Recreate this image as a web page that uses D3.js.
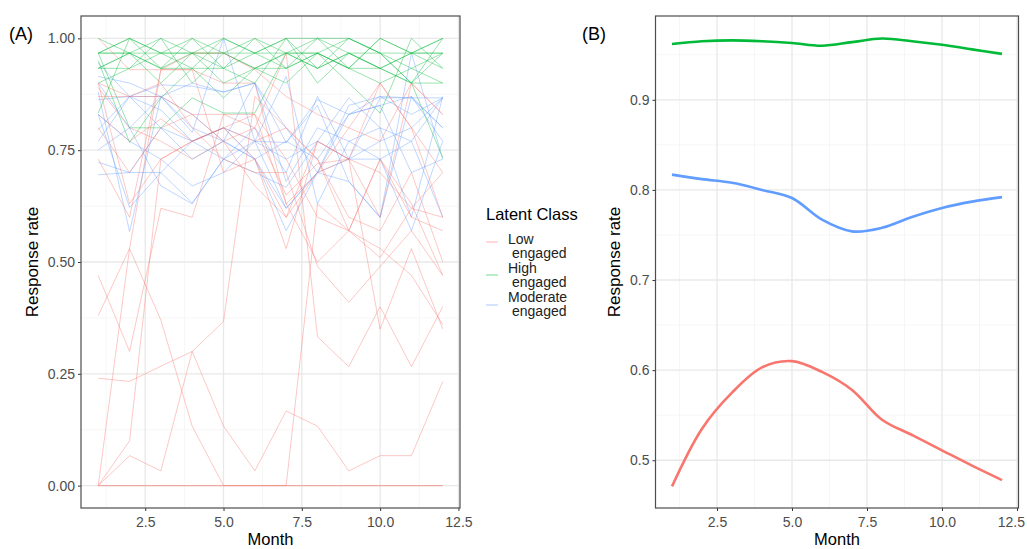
<!DOCTYPE html>
<html>
<head>
<meta charset="utf-8">
<script src="https://cdn.jsdelivr.net/npm/d3@7"></script>
<style>
  body { margin: 0; background: #fff; }
  svg { font-family: "Liberation Sans", Arial, sans-serif; }
  .tick text { fill: #4d4d4d; font-size: 14px; }
  .tick line { stroke: #333; }
</style>
</head>
<body>
<div class="chart"></div>
<script>
const months = [1, 2, 3, 4, 5, 6, 7, 8, 9, 10, 11, 12];
const classes = ['Low engaged', 'High engaged', 'Moderate engaged'];
const classColors = ['#F8766D', '#00BA38', '#619CFF'];

// panel A: individual trajectories per class
const lowLines = [
  [0, 0, 0, 0, 0, 0, 0, 0, 0, 0, 0, 0],
  [0, 0.067, 0.033, 0.30, 0.133, 0.033, 0.167, 0.133, 0.033, 0.067, 0.067, 0.233],
  [0.24, 0.233, 0.267, 0.30, 0.367, 0.87, 0.80, 0.73, 0.60, 0.57, 0.70, 0.50],
  [0, 0.10, 0.73, 0.77, 0.80, 0.83, 0.63, 0.70, 0.73, 0.90, 0.80, 0.70],
  [0, 0.53, 0.93, 0.93, 0.90, 0.90, 0.63, 0.50, 0.57, 0.73, 0.63, 0.47],
  [0.47, 0.30, 0.62, 0.60, 0.83, 0.83, 0.73, 0.60, 0.57, 0.53, 0.47, 0.36],
  [0.38, 0.53, 0.37, 0.133, 0, 0, 0, 0, 0, 0, 0, 0],
  [0, 0, 0, 0, 0, 0, 0, 0.63, 0.57, 0.73, 0.60, 0.57],
  [0.89, 0.80, 0.77, 0.73, 0.77, 0.80, 0.967, 0.333, 0.266, 0.40, 0.266, 0.40],
  [1.0, 0.93, 0.93, 0.967, 0.967, 0.93, 0.87, 0.83, 0.80, 0.77, 0.90, 0.83],
  [0.90, 0.87, 0.87, 0.83, 0.83, 0.80, 0.65, 0.72, 0.73, 0.70, 0.62, 0.70],
  [0.83, 0.77, 0.82, 0.77, 0.80, 0.73, 0.60, 0.70, 0.80, 0.90, 0.80, 0.60],
  [0.87, 0.87, 0.90, 0.80, 0.73, 0.70, 0.70, 0.49, 0.41, 0.49, 0.57, 0.47],
  [0.80, 0.70, 0.80, 0.83, 0.77, 0.67, 0.60, 0.77, 0.73, 0.35, 0.53, 0.35],
  [0.90, 0.63, 0.73, 0.77, 0.80, 0.77, 0.80, 0.73, 0.57, 0.51, 0.62, 0.60],
  [0.73, 0.60, 0.93, 0.93, 0.70, 0.73, 0.53, 0.77, 0.73, 0.60, 0.90, 0.83]
];
const highLines = [
  [0.967, 0.967, 0.967, 0.967, 0.967, 0.967, 0.967, 1.0, 0.967, 0.933, 0.967, 1.0],
  [0.967, 1.0, 0.967, 1.0, 0.933, 1.0, 0.967, 0.967, 1.0, 0.967, 0.933, 0.967],
  [0.933, 0.967, 1.0, 0.967, 1.0, 0.967, 1.0, 1.0, 0.933, 1.0, 0.967, 0.933],
  [1.0, 0.967, 0.933, 0.967, 0.967, 0.933, 0.967, 0.933, 0.967, 0.967, 0.90, 1.0],
  [0.833, 1.0, 0.967, 0.933, 0.867, 0.933, 0.90, 0.967, 0.933, 0.90, 0.933, 0.90],
  [0.95, 0.767, 0.867, 0.933, 0.933, 0.90, 1.0, 0.90, 0.967, 0.933, 0.90, 0.733],
  [0.967, 0.80, 0.80, 0.867, 0.833, 0.833, 0.967, 0.967, 0.933, 1.0, 0.967, 0.967],
  [0.90, 0.933, 1.0, 0.90, 0.967, 1.0, 0.933, 0.967, 0.90, 0.833, 1.0, 0.933],
  [0.967, 0.967, 0.933, 1.0, 0.967, 0.933, 0.933, 1.0, 1.0, 0.967, 0.967, 0.967],
  [0.933, 0.933, 0.967, 0.967, 0.90, 0.933, 0.967, 0.933, 0.967, 0.933, 0.90, 0.90],
  [0.967, 1.0, 0.933, 0.933, 1.0, 0.967, 0.933, 0.967, 0.933, 0.933, 0.967, 1.0],
  [0.933, 0.967, 0.90, 0.967, 0.933, 0.967, 1.0, 0.933, 1.0, 0.967, 0.90, 0.967]
];
const moderateLines = [
  [0.945, 0.87, 0.87, 0.80, 0.77, 0.73, 0.62, 0.70, 0.73, 0.867, 0.867, 0.867],
  [0.915, 0.90, 0.87, 0.83, 0.77, 0.73, 0.57, 0.70, 0.68, 0.60, 0.967, 0.73],
  [0.863, 0.87, 0.896, 0.893, 0.88, 0.90, 0.767, 0.863, 0.83, 0.87, 0.867, 0.80],
  [0.796, 0.87, 0.84, 0.77, 0.73, 0.70, 0.667, 0.77, 0.73, 0.73, 0.77, 0.60],
  [0.751, 0.80, 0.87, 0.79, 1.0, 0.77, 0.915, 0.63, 0.77, 0.80, 0.60, 0.87],
  [0.723, 0.70, 0.70, 0.632, 0.73, 0.77, 0.62, 0.70, 0.83, 0.85, 0.70, 0.73],
  [0.695, 0.70, 0.80, 0.77, 0.80, 0.77, 0.767, 0.85, 0.68, 0.60, 0.87, 0.77],
  [0.88, 0.568, 0.87, 0.90, 0.88, 0.90, 0.68, 0.80, 0.77, 0.73, 0.57, 0.77],
  [0.83, 0.622, 0.70, 0.77, 0.80, 0.73, 0.77, 0.73, 0.83, 0.85, 0.87, 0.80],
  [0.90, 0.80, 0.67, 0.63, 0.73, 0.80, 0.70, 0.87, 0.73, 0.77, 0.80, 0.867],
  [0.77, 0.87, 0.80, 0.73, 0.77, 0.90, 0.80, 0.70, 0.85, 0.87, 0.83, 0.867],
  [0.83, 0.77, 0.73, 0.67, 0.70, 0.77, 0.73, 0.77, 0.867, 0.80, 0.77, 0.867]
];

// panel B: smoothed means
const lowMean = [0.471, 0.535, 0.575, 0.603, 0.610, 0.598, 0.578, 0.545, 0.528, 0.511, 0.494, 0.478];
const highMean = [0.962, 0.965, 0.966, 0.965, 0.963, 0.960, 0.964, 0.968, 0.965, 0.961, 0.956, 0.951];
const moderateMean = [0.817, 0.812, 0.808, 0.800, 0.791, 0.767, 0.754, 0.758, 0.770, 0.780, 0.787, 0.792];

const xTicks = [2.5, 5.0, 7.5, 10.0, 12.5];
const xMinor = [1.25, 3.75, 6.25, 8.75, 11.25];
const yTicksA = [0, 0.25, 0.5, 0.75, 1.0];
const yMinorA = [0.125, 0.375, 0.625, 0.875];
const yTicksB = [0.5, 0.6, 0.7, 0.8, 0.9];
const yMinorB = [0.55, 0.65, 0.75, 0.85, 0.95];

const svg = d3.select('.chart').append('svg')
    .attr('width', 1027)
    .attr('height', 549);

svg.append('rect').attr('width', 1027).attr('height', 549).attr('fill', '#fff');

function panel(xRange, yDomain, yRange, yTicks, yMinor, yFmt) {
    const x = d3.scaleLinear().domain([0.45, 12.55]).range(xRange);
    const y = d3.scaleLinear().domain(yDomain).range(yRange);
    const g = svg.append('g');

    // grid
    g.selectAll('.minx').data(xMinor).enter().append('line')
        .attr('x1', d => x(d)).attr('x2', d => x(d))
        .attr('y1', yRange[1]).attr('y2', yRange[0])
        .attr('stroke', '#f4f4f4').attr('stroke-width', 0.8);
    g.selectAll('.miny').data(yMinor).enter().append('line')
        .attr('y1', d => y(d)).attr('y2', d => y(d))
        .attr('x1', xRange[0]).attr('x2', xRange[1])
        .attr('stroke', '#f4f4f4').attr('stroke-width', 0.8);
    g.selectAll('.majx').data(xTicks).enter().append('line')
        .attr('x1', d => x(d)).attr('x2', d => x(d))
        .attr('y1', yRange[1]).attr('y2', yRange[0])
        .attr('stroke', '#e8e8e8').attr('stroke-width', 1.3);
    g.selectAll('.majy').data(yTicks).enter().append('line')
        .attr('y1', d => y(d)).attr('y2', d => y(d))
        .attr('x1', xRange[0]).attr('x2', xRange[1])
        .attr('stroke', '#e8e8e8').attr('stroke-width', 1.3);

    const gx = g.append('g')
        .attr('transform', 'translate(0,' + yRange[0] + ')')
        .call(d3.axisBottom(x).tickValues(xTicks).tickFormat(d3.format('.1f')).tickSize(3).tickPadding(3));
    const gy = g.append('g')
        .attr('transform', 'translate(' + xRange[0] + ',0)')
        .call(d3.axisLeft(y).tickValues(yTicks).tickFormat(d3.format(yFmt)).tickSize(3).tickPadding(3));
    gx.select('.domain').remove();
    gy.select('.domain').remove();
    gx.selectAll('text').attr('dy', '0.9em');

    return { x, y, g, gx };
}

function border(p, xRange, yRange) {
    p.g.append('rect')
        .attr('x', xRange[0]).attr('y', yRange[1])
        .attr('width', xRange[1] - xRange[0]).attr('height', yRange[0] - yRange[1])
        .attr('fill', 'none').attr('stroke', '#4d4d4d').attr('stroke-width', 1.2);
}

// ---- panel A
const xRA = [81, 460], yRA = [508, 16];
const pA = panel(xRA, [-0.05, 1.05], yRA, yTicksA, yMinorA, '.2f');
const lineA = d3.line().x((d, i) => pA.x(months[i])).y(d => pA.y(d));

const groups = [lowLines, highLines, moderateLines];
// draw in mixed order so colours overlap like the original
const drawOrder = [];
const maxN = d3.max(groups, g => g.length);
for (let i = 0; i < maxN; i++) {
    groups.forEach((grp, k) => { if (i < grp.length) drawOrder.push({ k, vals: grp[i] }); });
}
pA.g.selectAll('.indiv').data(drawOrder).enter().append('path')
    .attr('d', d => lineA(d.vals))
    .attr('fill', 'none')
    .attr('stroke', d => classColors[d.k])
    .attr('stroke-opacity', 0.4)
    .attr('stroke-width', 1);
border(pA, xRA, yRA);

// ---- panel B
const xRB = [655.5, 1018.5], yRB = [508, 16];
const pB = panel(xRB, [0.447, 0.993], yRB, yTicksB, yMinorB, '.1f');
const lineB = d3.line().x((d, i) => pB.x(months[i])).y(d => pB.y(d)).curve(d3.curveCatmullRom);
pB.g.selectAll('.mean').data([lowMean, highMean, moderateMean]).enter().append('path')
    .attr('d', d => lineB(d))
    .attr('fill', 'none')
    .attr('stroke', (d, i) => classColors[i])
    .attr('stroke-width', 2.6);
border(pB, xRB, yRB);
// last x label sits at the window edge: keep it inside
pB.gx.selectAll('.tick text').filter(d => d === 12.5)
    .attr('text-anchor', 'end').attr('x', 1026 - 1018.5);

// titles
svg.append('text').attr('x', 9).attr('y', 40).attr('font-size', 18).text('(A)');
svg.append('text').attr('x', 582).attr('y', 40).attr('font-size', 18).text('(B)');

svg.append('text').attr('x', 270.5).attr('y', 545).attr('text-anchor', 'middle')
    .attr('font-size', 16.5).text('Month');
svg.append('text').attr('x', 837).attr('y', 545).attr('text-anchor', 'middle')
    .attr('font-size', 16.5).text('Month');
svg.append('text').attr('transform', 'translate(38,262) rotate(-90)')
    .attr('text-anchor', 'middle').attr('font-size', 17).text('Response rate');
svg.append('text').attr('transform', 'translate(620,262) rotate(-90)')
    .attr('text-anchor', 'middle').attr('font-size', 17).text('Response rate');

// legend
const legend = svg.append('g');
legend.append('text').attr('x', 486).attr('y', 220).attr('font-size', 16.5).text('Latent Class');
const keyY = [242, 275, 305];
const labelY = [244, 273, 302];
const firstWord = ['Low', 'High', 'Moderate'];
classes.forEach((c, i) => {
    legend.append('line')
        .attr('x1', 486).attr('x2', 498)
        .attr('y1', keyY[i]).attr('y2', keyY[i])
        .attr('stroke', classColors[i]).attr('stroke-opacity', 0.45).attr('stroke-width', 1.2);
    legend.append('text').attr('x', 508).attr('y', labelY[i]).attr('font-size', 14)
        .attr('fill', '#222').text(firstWord[i]);
    legend.append('text').attr('x', 512).attr('y', labelY[i] + 14).attr('font-size', 14)
        .attr('fill', '#222').text('engaged');
});
</script>
</body>
</html>
